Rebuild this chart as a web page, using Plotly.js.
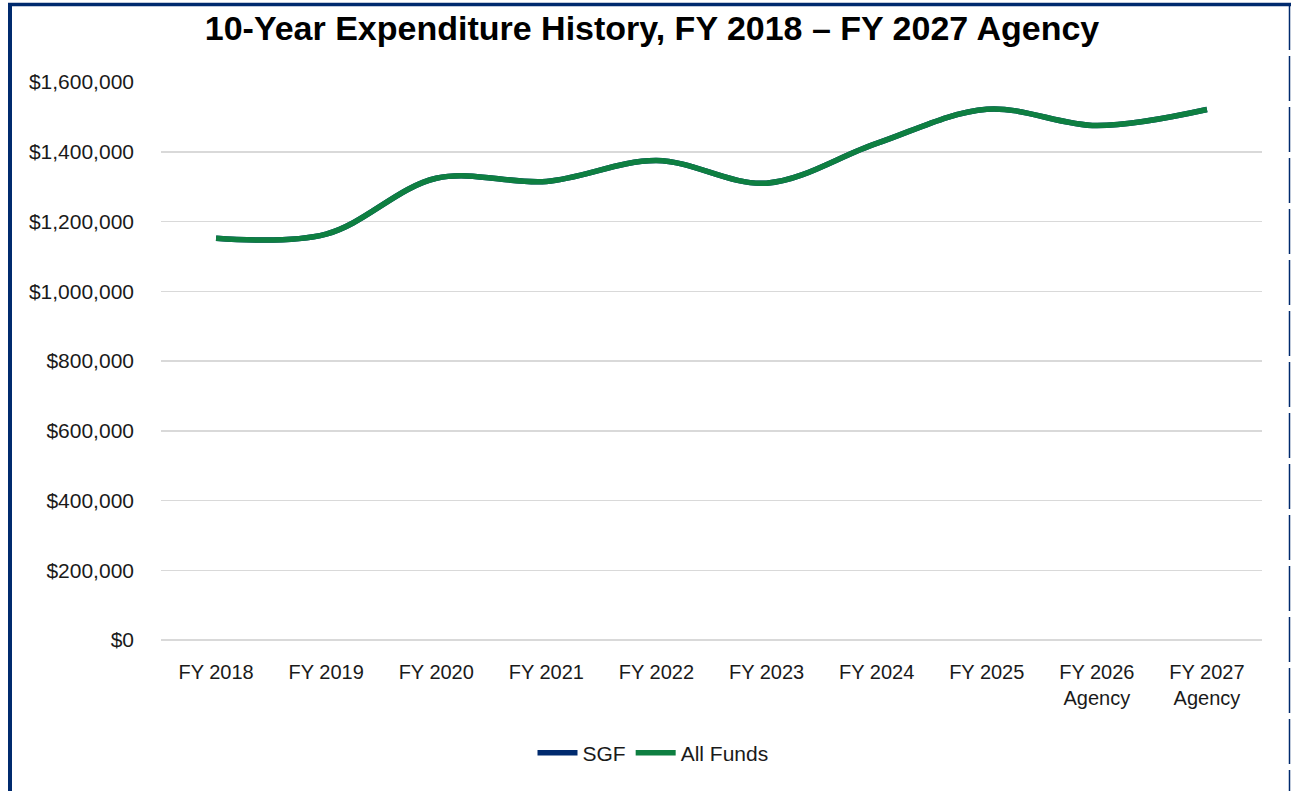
<!DOCTYPE html>
<html>
<head>
<meta charset="utf-8">
<script src="https://cdn.plot.ly/plotly-3.0.1.min.js"></script>
<style>html,body{margin:0;padding:0;background:#fff;}#chart{width:1291px;height:791px;}</style>
</head>
<body>
<div id="chart"></div>
<script>
const categories = ["FY 2018","FY 2019","FY 2020","FY 2021","FY 2022","FY 2023","FY 2024","FY 2025","FY 2026<br>Agency","FY 2027<br>Agency"];
const sgfValues = [1152000,1164000,1324000,1315000,1375000,1310000,1424000,1522000,1475000,1521000];
const allFundsValues = [1152000,1164000,1324000,1315000,1375000,1310000,1424000,1522000,1475000,1521000];
const yTickValues = [0,200000,400000,600000,800000,1000000,1200000,1400000,1600000];
const yTickLabels = ["$0","$200,000","$400,000","$600,000","$800,000","$1,000,000","$1,200,000","$1,400,000","$1,600,000"];

const W = 1291, H = 791, L = 161, R = 29, T = 82, B = 151;
const pw = W - L - R, ph = H - T - B;
const px = v => (v - L) / pw;
const py = v => (H - B - v) / ph;

const traces = [
  {x: categories, y: sgfValues, name: "SGF", type: "scatter", mode: "lines",
   line: {color: "#002A6E", width: 5.5, shape: "spline", smoothing: 1}},
  {x: categories, y: allFundsValues, name: "All Funds", type: "scatter", mode: "lines",
   line: {color: "#0E7F41", width: 5.5, shape: "spline", smoothing: 1}}
];

const layout = {
  width: W, height: H,
  margin: {l: L, r: R, t: T, b: B, pad: 0},
  paper_bgcolor: "#ffffff", plot_bgcolor: "#ffffff",
  font: {family: "Liberation Sans, Arial, sans-serif", color: "#1a1a1a", size: 20},
  title: {text: "<b>10-Year Expenditure History, FY 2018 – FY 2027 Agency</b>",
    font: {family: "Liberation Sans, Arial, sans-serif", size: 34, color: "#000000"},
    x: px(652), xref: "paper", xanchor: "center", y: 1 - 28 / H, yanchor: "middle"},
  xaxis: {type: "category", range: [-0.5, 9.5], showgrid: false, zeroline: false, showline: false,
    ticks: "", ticklabelstandoff: 18, tickfont: {size: 20, color: "#1a1a1a"}, fixedrange: true},
  yaxis: {range: [0, 1600000], tickvals: yTickValues, ticktext: yTickLabels,
    showgrid: true, gridcolor: "#d9d9d9", gridwidth: 1.5, zeroline: true, zerolinecolor: "#d9d9d9", zerolinewidth: 1.5,
    showline: false, ticks: "", ticklabelstandoff: 26, tickfont: {size: 21, color: "#1a1a1a"}, fixedrange: true},
  showlegend: true,
  legend: {orientation: "h", x: px(653), xanchor: "center", y: py(753), yanchor: "middle",
    font: {size: 21, color: "#1a1a1a"}, itemwidth: 40, traceorder: "normal"},
  shapes: [
    {type: "line", xref: "paper", yref: "paper", x0: px(8), x1: px(1291), y0: py(4.5), y1: py(4.5),
     line: {color: "#002A6E", width: 3.5}},
    {type: "line", xref: "paper", yref: "paper", x0: px(10), x1: px(10), y0: py(3), y1: py(791),
     line: {color: "#002A6E", width: 4}},
    {type: "line", xref: "paper", yref: "paper", x0: px(1289.5), x1: px(1289.5), y0: py(5), y1: py(791),
     line: {color: "#002A6E", width: 1.5, dash: "45px,6px"}}
  ]
};

Plotly.newPlot("chart", traces, layout, {displayModeBar: false, staticPlot: true});
</script>
</body>
</html>
